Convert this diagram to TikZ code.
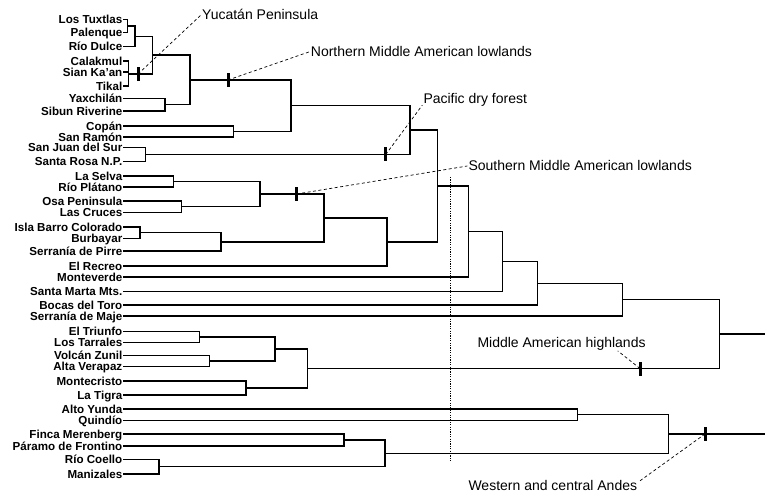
\documentclass[tikz,border=0pt]{standalone}
\usepackage{fontspec}
\setmainfont{Liberation Sans}
\usetikzlibrary{calc}

\begin{document}
\begin{tikzpicture}[x=1pt,y=-1pt,
  every edge/.style={draw,line width=1.4pt,to path={|- (\tikztotarget)}},
  leaf node/.style={anchor=east,inner sep=0.5pt,text height=8.3pt,text depth=0pt,font=\fontsize{11.6}{13}\selectfont\bfseries},
  clade label/.style={anchor=west,inner sep=1pt,text height=10pt,text depth=0pt,font=\fontsize{14}{16}\selectfont},
  bar node/.style={fill=black,inner sep=0pt,minimum width=3pt,minimum height=14pt},
  lead/.style={line width=0.7pt,dash pattern=on 3pt off 2.5pt}]

\useasboundingbox (0,0) rectangle (765,494);

% sampling sites
\node[leaf node] (tux)  at (123,19.5)  {Los Tuxtlas};
\node[leaf node] (pal)  at (123,32.5)  {Palenque};
\node[leaf node] (rio)  at (123,46.5)  {Río Dulce};
\node[leaf node] (cal)  at (123,61)    {Calakmul};
\node[leaf node] (sian) at (123,72)    {Sian Ka’an};
\node[leaf node] (tik)  at (123,86)    {Tikal};
\node[leaf node] (yax)  at (123,98.5)  {Yaxchilán};
\node[leaf node] (sib)  at (123,111)   {Sibun Riverine};
\node[leaf node] (cop)  at (123,126)   {Copán};
\node[leaf node] (sanr) at (123,137)   {San Ramón};
\node[leaf node] (sanj) at (123,147.5) {San Juan del Sur};
\node[leaf node] (sro)  at (123,161.5) {Santa Rosa N.P.};
\node[leaf node] (sel)  at (123,176)   {La Selva};
\node[leaf node] (pla)  at (123,187)   {Río Plátano};
\node[leaf node] (osa)  at (123,201)   {Osa Peninsula};
\node[leaf node] (cru)  at (123,212.5) {Las Cruces};
\node[leaf node] (isl)  at (123,227)   {Isla Barro Colorado};
\node[leaf node] (bur)  at (123,238.5) {Burbayar};
\node[leaf node] (pir)  at (123,251)   {Serranía de Pirre};
\node[leaf node] (rec)  at (123,266)   {El Recreo};
\node[leaf node] (mon)  at (123,277)   {Monteverde};
\node[leaf node] (sma)  at (123,291.5) {Santa Marta Mts.};
\node[leaf node] (boc)  at (123,305)   {Bocas del Toro};
\node[leaf node] (maj)  at (123,316)   {Serranía de Maje};
\node[leaf node] (tri)  at (123,331.5) {El Triunfo};
\node[leaf node] (tar)  at (123,342.5) {Los Tarrales};
\node[leaf node] (zun)  at (123,355.5) {Volcán Zunil};
\node[leaf node] (ver)  at (123,366.5) {Alta Verapaz};
\node[leaf node] (mtc)  at (123,381)   {Montecristo};
\node[leaf node] (tig)  at (123,395)   {La Tigra};
\node[leaf node] (yun)  at (123,409)   {Alto Yunda};
\node[leaf node] (qui)  at (123,420.5) {Quindío};
\node[leaf node] (fin)  at (123,434)   {Finca Merenberg};
\node[leaf node] (par)  at (123,446)   {Páramo de Frontino};
\node[leaf node] (coe)  at (123,459.5) {Río Coello};
\node[leaf node] (man)  at (123,474)   {Manizales};

% internal nodes
\coordinate (nA)  at (127.7,26);
\coordinate (nB)  at (135,36.25);
\coordinate (nC)  at (128.5,74);
\coordinate (nD)  at (152.3,55);
\coordinate (nE)  at (165,104.75);
\coordinate (nF)  at (190,80);
\coordinate (nG)  at (233.3,131.5);
\coordinate (nH)  at (291,105.7);
\coordinate (nI)  at (145.7,154.5);
\coordinate (nJ)  at (410,130);
\coordinate (nK)  at (173.3,181.5);
\coordinate (nL)  at (181.7,206.75);
\coordinate (nM)  at (260,194);
\coordinate (nN)  at (140,232.75);
\coordinate (nO)  at (221,241.9);
\coordinate (nP)  at (324,218);
\coordinate (nQ)  at (387,242);
\coordinate (nR)  at (437.3,186);
\coordinate (nS)  at (468.3,231.5);
\coordinate (nT)  at (502.3,261.5);
\coordinate (nU)  at (537.3,283.25);
\coordinate (nV)  at (622.7,299.6);
\coordinate (nW1) at (199.3,337);
\coordinate (nW2) at (209.3,361);
\coordinate (nW)  at (275,349);
\coordinate (nX)  at (246,388);
\coordinate (nY)  at (307.3,368.5);
\coordinate (nZ)  at (719.3,334);
\coordinate (rZ)  at (765,334);
\coordinate (nAa) at (577.7,414.75);
\coordinate (nAb) at (344,440);
\coordinate (nAc) at (159,466.75);
\coordinate (nAd) at (385,453.4);
\coordinate (nAe) at (668.3,434);
\coordinate (rA)  at (765,434);

\path
(nA) edge (tux)  (nA) edge (pal)
(nB) edge (nA)   (nB) edge (rio)
(nC) edge (cal)  (nC) edge (sian) (nC) edge (tik)
(nD) edge (nB)   (nD) edge (nC)
(nE) edge (yax)  (nE) edge (sib)
(nF) edge (nD)   (nF) edge (nE)
(nG) edge (cop)  (nG) edge (sanr)
(nH) edge (nF)   (nH) edge (nG)
(nI) edge (sanj) (nI) edge (sro)
(nJ) edge (nH)   (nJ) edge (nI)
(nK) edge (sel)  (nK) edge (pla)
(nL) edge (osa)  (nL) edge (cru)
(nM) edge (nK)   (nM) edge (nL)
(nN) edge (isl)  (nN) edge (bur)
(nO) edge (nN)   (nO) edge (pir)
(nP) edge (nM)   (nP) edge (nO)
(nQ) edge (nP)   (nQ) edge (rec)
(nR) edge (nJ)   (nR) edge (nQ)
(nS) edge (nR)   (nS) edge (mon)
(nT) edge (nS)   (nT) edge (sma)
(nU) edge (nT)   (nU) edge (boc)
(nV) edge (nU)   (nV) edge (maj)
(nW1) edge (tri) (nW1) edge (tar)
(nW2) edge (zun) (nW2) edge (ver)
(nW) edge (nW1)  (nW) edge (nW2)
(nX) edge (mtc)  (nX) edge (tig)
(nY) edge (nW)   (nY) edge (nX)
(nZ) edge (nV)   (nZ) edge (nY)
(rZ) edge (nZ)
(nAa) edge (yun) (nAa) edge (qui)
(nAb) edge (fin) (nAb) edge (par)
(nAc) edge (coe) (nAc) edge (man)
(nAd) edge (nAb) (nAd) edge (nAc)
(nAe) edge (nAa) (nAe) edge (nAd)
(rA) edge (nAe);

% dotted cut
\coordinate (dtop) at (450.7,177);
\coordinate (dbot) at (450.7,462);
\draw[line width=1.3pt,dash pattern=on 1.2pt off 1.2pt] (dtop) -- (dbot);

% clade labels
\node[clade label] (lY) at (201,15)    {Yucatán Peninsula};
\node[clade label] (lN) at (309.7,51.7) {Northern Middle American lowlands};
\node[clade label] (lP) at (422.3,99)  {Pacific dry forest};
\node[clade label] (lS) at (467.3,166) {Southern Middle American lowlands};
\node[clade label] (lH) at (476.3,342.7) {Middle American highlands};
\node[clade label] (lA) at (467.3,485) {Western and central Andes};

\coordinate (tY) at (138,74);
\coordinate (tN) at (228,80);
\coordinate (tP) at (385.7,154.5);
\coordinate (tS) at (296.7,194);
\coordinate (tH) at (640,368.5);
\coordinate (tA) at (705,434);

\draw[lead] (tY) -- (lY.west);
\draw[lead] (tN) -- (lN.west);
\draw[lead] (tP) -- (lP.south west);
\draw[lead] (tS) -- (lS.west);
\draw[lead] (tH) -- ([shift={(-29,2)}]lH.south east);
\draw[lead] (tA) -- ([yshift=3pt]lA.east);

% synapomorphy bars
\node[bar node] at (tY) {};
\node[bar node] at (tN) {};
\node[bar node] at (tP) {};
\node[bar node] at (tS) {};
\node[bar node] at (tH) {};
\node[bar node] at (tA) {};

\end{tikzpicture}
\end{document}
